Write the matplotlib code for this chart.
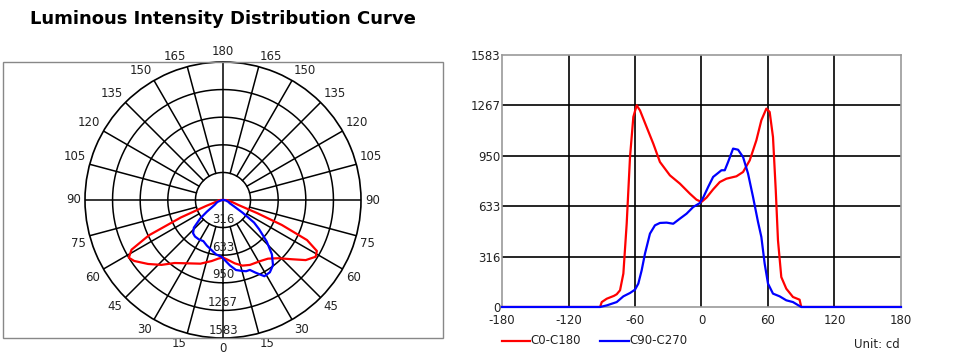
import numpy as np
import matplotlib
matplotlib.use("Agg")
import matplotlib.pyplot as plt
from matplotlib.lines import Line2D
from matplotlib.patches import Rectangle

plt.rcParams["axes.unicode_minus"] = False

# C0-C180 (red) intensity in cd vs angle in degrees
red_deg = [-180, -91.5, -90, -85.5, -79, -76.5, -73.5, -70.5, -67.5, -64.5, -61.5, -58.5,
           -55.5, -49.5, -43.5, -37.5, -28.5, -19.5, -10.5, -4.5, 0, 4.5, 10.5, 16.5, 22.5,
           31.5, 37.5, 43.5, 49.5, 54, 58.5, 61.5, 64.5, 67, 69, 72, 76.5, 82.5, 88.5, 90, 180]
red_cd = [0, 0, 31, 52, 70, 80, 105, 210, 523, 942, 1194, 1267,
          1235, 1130, 1026, 911, 827, 775, 712, 674, 660, 687, 739, 785, 806,
          821, 848, 921, 1047, 1173, 1246, 1225, 1068, 733, 419, 188, 115, 63, 46, 0, 0]

# C90-C270 (blue)
blue_deg = [-180, -91.5, -85.5, -76.5, -70.5, -64.5, -60, -57, -54, -51, -46.5, -42, -37.5,
            -31.5, -25.5, -19.5, -13.5, -7.5, -1.5, 1.5, 6, 10.5, 15, 18, 21, 24, 28.5, 33,
            37.5, 42, 46.5, 51, 54, 57, 60, 64.5, 70.5, 76.5, 82.5, 88.5, 90, 180]
blue_cd = [0, 0, 10, 31, 67, 88, 109, 147, 230, 335, 461, 513, 528,
           530, 523, 555, 586, 628, 653, 687, 754, 817, 842, 859, 859, 911, 995, 988,
           942, 838, 691, 534, 440, 272, 147, 84, 67, 42, 31, 6, 0, 0]

rings = [316, 633, 950, 1267, 1583]
x_ticks = [-180, -120, -60, 0, 60, 120, 180]
RED = "#ff0000"
BLUE = "#0000ff"
FS = 8.5

W, H = 962, 359
fig = plt.figure(figsize=(W / 100, H / 100), dpi=100)
fig.patch.set_facecolor("white")

fig.text(30 / W, 1 - 19 / H, "Luminous Intensity Distribution Curve",
         fontsize=13, fontweight="bold", va="center", ha="left")

# frame round the polar plot
fig.add_artist(Rectangle((3 / W, 1 - 338 / H), 440 / W, 276 / H, transform=fig.transFigure,
                         fill=False, edgecolor="#888888", linewidth=1.0))

# ---- polar chart ----
cx, cy, R = 223, 200, 138
ax = fig.add_axes([(cx - R) / W, 1 - (cy + R) / H, 2 * R / W, 2 * R / H], projection="polar")
ax.set_theta_zero_location("S")
ax.set_theta_direction(1)
ax.set_ylim(0, rings[-1])
ax.grid(False)
ax.set_xticks([])
ax.set_yticks([])
ax.spines["polar"].set_color("black")
ax.spines["polar"].set_linewidth(1.2)

th = np.linspace(0, 2 * np.pi, 361)
for r in rings[:-1]:
    ax.plot(th, np.full_like(th, r), color="black", lw=1.1, zorder=1)
for a in range(-165, 181, 15):
    r0 = 0 if a % 90 == 0 else rings[0]
    ax.plot([np.deg2rad(a)] * 2, [r0, rings[-1]], color="black", lw=1.1, zorder=1)

# angle labels sit just outside the outer ring, corner nearest the circle
gap = 4
for a in range(0, 181, 15):
    for s in ([1] if a in (0, 180) else [1, -1]):
        t = np.deg2rad(s * a)
        dx, dy = np.sin(t), -np.cos(t)
        ha = "center" if abs(dx) < 1e-6 else ("left" if dx > 0 else "right")
        va = "center" if abs(dy) < 1e-6 else ("bottom" if dy > 0 else "top")
        ax.annotate(str(a), xy=(t, rings[-1]), xytext=(gap * dx, gap * dy),
                    textcoords="offset pixels", fontsize=FS, ha=ha, va=va,
                    color="#222222", annotation_clip=False)
for r in rings:
    ax.text(0, r - 90, str(r), fontsize=FS, ha="center", va="center", color="#222222", zorder=5)

ax.plot(np.deg2rad(red_deg), red_cd, color=RED, lw=1.6, zorder=3)
ax.plot(np.deg2rad(blue_deg), blue_cd, color=BLUE, lw=1.6, zorder=3)

# ---- cartesian chart ----
ax2 = fig.add_axes([502 / W, 1 - 307 / H, 399 / W, 252 / H])
ax2.set_xlim(x_ticks[0], x_ticks[-1])
ax2.set_ylim(0, rings[-1])
for x in x_ticks[1:-1]:
    ax2.axvline(x, color="black", lw=1.2, zorder=1)
for y in rings[:-1]:
    ax2.axhline(y, color="black", lw=1.2, zorder=1)
ax2.set_xticks(x_ticks)
ax2.set_yticks([0] + rings)
ax2.set_yticklabels(["0"] + [str(r) for r in rings])
ax2.tick_params(length=0, labelsize=FS, colors="#222222")
ax2.tick_params(axis="y", pad=1)
ax2.tick_params(axis="x", pad=5)
for sp in ax2.spines.values():
    sp.set_color("#999999")
    sp.set_linewidth(1.2)
ax2.plot(red_deg, red_cd, color=RED, lw=1.6, zorder=3)
ax2.plot(blue_deg, blue_cd, color=BLUE, lw=1.6, zorder=4, clip_on=False)

# legend
ly = 1 - 341 / H
fig.add_artist(Line2D([502 / W, 530 / W], [ly, ly], color=RED, lw=1.6))
fig.text(530 / W, ly, "C0-C180", fontsize=FS, va="center", ha="left", color="#222222")
fig.add_artist(Line2D([600 / W, 629 / W], [ly, ly], color=BLUE, lw=1.6))
fig.text(629 / W, ly, "C90-C270", fontsize=FS, va="center", ha="left", color="#222222")
fig.text(877 / W, 1 - 344 / H, "Unit: cd", fontsize=FS, va="center", ha="center", color="#222222")

fig.savefig("out.png", dpi=100)
